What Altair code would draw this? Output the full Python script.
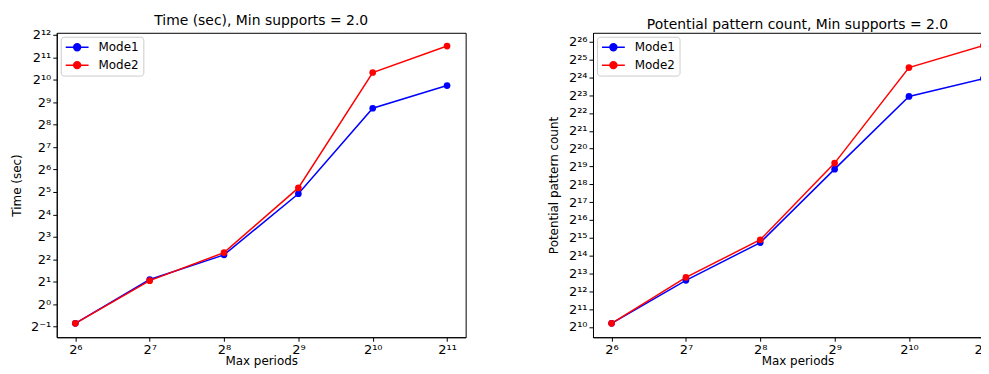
import altair as alt
import pandas as pd

# x: log2(Max periods)
period_exp = [6, 7, 8, 9, 10, 11]
# log2(Time in seconds)
time_mode1 = [-0.85, 1.1, 2.2, 4.92, 8.73, 9.74]
time_mode2 = [-0.85, 1.05, 2.3, 5.18, 10.32, 11.5]
# log2(Potential pattern count)
count_mode1 = [10.2, 12.61, 14.73, 18.85, 22.93, 23.93]
count_mode2 = [10.2, 12.78, 14.89, 19.19, 24.55, 25.78]

modes = ["Mode1", "Mode2"]
colors = ["#0000ff", "#ff0000"]

x_ticks = [6, 7, 8, 9, 10, 11]
time_ticks = list(range(-1, 13))
count_ticks = list(range(10, 27))


def sup_expr():
    sup = {"0": "⁰", "1": "¹", "2": "²", "3": "³", "4": "⁴", "5": "⁵",
           "6": "⁶", "7": "⁷", "8": "⁸", "9": "⁹", "-": "⁻"}
    e = "toString(datum.value)"
    for k, v in sup.items():
        e = f"replace({e}, regexp('{k}', 'g'), '{v}')"
    return "'2' + " + e


def make_df(a, b):
    rows = []
    for m, vals in zip(modes, [a, b]):
        for x, v in zip(period_exp, vals):
            rows.append({"x": x, "y": v, "mode": m})
    return pd.DataFrame(rows)


legend_path = "M-2,0L2,0M-0.6,0A0.6,0.6,0,1,1,0.6,0A0.6,0.6,0,1,1,-0.6,0Z"


def panel(df, title, ytitle, yticks, ydom):
    base = alt.Chart(df)
    color = alt.Color(
        "mode:N",
        scale=alt.Scale(domain=modes, range=colors),
        legend=alt.Legend(
            title=None, orient="top-left", offset=4,
            symbolType=legend_path, symbolSize=132, symbolStrokeWidth=1.5,
            labelFontSize=12, labelFont="DejaVu Sans", labelOffset=15,
            symbolOffset=6, padding=4, strokeColor="#cccccc", fillColor="white",
            cornerRadius=3, rowPadding=5,
        ),
    )
    x = alt.X("x:Q", scale=alt.Scale(domain=[5.75, 11.25], nice=False, zero=False),
              axis=alt.Axis(values=x_ticks, labelExpr=sup_expr(), title="Max periods",
                            titlePadding=-1))
    y = alt.Y("y:Q", scale=alt.Scale(domain=ydom, nice=False, zero=False),
              axis=alt.Axis(values=yticks, labelExpr=sup_expr(), title=ytitle,
                            titlePadding=6, minExtent=27, maxExtent=27))
    line = base.mark_line(strokeWidth=1.5).encode(x=x, y=y, color=color)
    pts = base.mark_point(filled=True, size=45, opacity=1).encode(x=x, y=y, color=color)
    return alt.layer(line, pts).properties(
        width=411, height=306,
        title=alt.TitleParams(title, fontSize=14, font="DejaVu Sans", fontWeight="normal",
                              offset=1),
    )


left = panel(make_df(time_mode1, time_mode2), "Time (sec), Min supports = 2.0",
             "Time (sec)", time_ticks, [-1.47, 12.09])
right = panel(make_df(count_mode1, count_mode2),
              "Potential pattern count, Min supports = 2.0",
              "Potential pattern count", count_ticks, [9.42, 26.5])

chart = alt.hconcat(left, right, spacing=80).resolve_scale(color="independent").resolve_legend(
    color="independent"
).properties(
    padding={"left": 2, "top": 4, "right": -22, "bottom": 0}
).configure_view(
    stroke="black", strokeWidth=1
).configure_axis(
    grid=False, domainColor="black", tickColor="black", tickSize=4,
    labelFont="DejaVu Sans", labelFontSize=13, labelColor="black",
    titleFont="DejaVu Sans", titleFontSize=12, titleFontWeight="normal", titleColor="black",
    labelPadding=2,
).configure_concat(spacing=80)

chart.save("out.html", embed_options={"renderer": "svg", "actions": False})
